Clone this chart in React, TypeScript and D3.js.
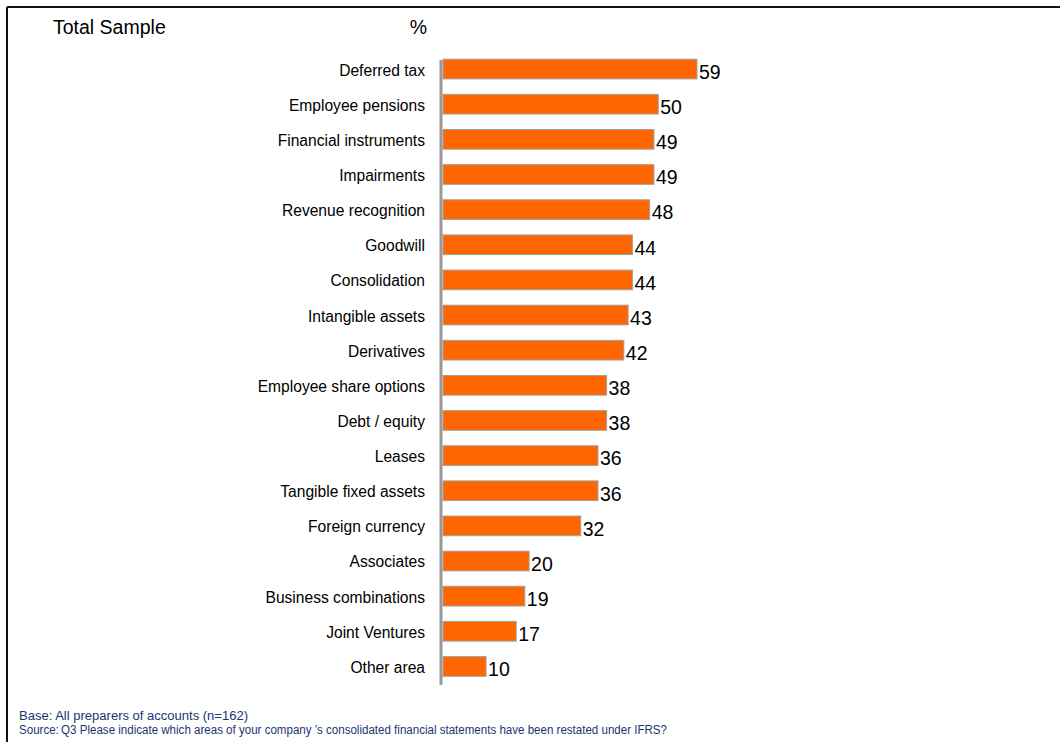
import React from "react";
import * as d3 from "d3";

const categories = [
  "Deferred tax",
  "Employee pensions",
  "Financial instruments",
  "Impairments",
  "Revenue recognition",
  "Goodwill",
  "Consolidation",
  "Intangible assets",
  "Derivatives",
  "Employee share options",
  "Debt / equity",
  "Leases",
  "Tangible fixed assets",
  "Foreign currency",
  "Associates",
  "Business combinations",
  "Joint Ventures",
  "Other area",
];
const values = [59, 50, 49, 49, 48, 44, 44, 43, 42, 38, 38, 36, 36, 32, 20, 19, 17, 10];

const title = "Total Sample";
const unitLabel = "%";
const footnotes = [
  "Base: All preparers of accounts (n=162)",
  "Source:\u2009Q3 Please indicate which areas of your company \u2019s consolidated financial statements have been restated under IFRS?",
];

export default function App() {
  const W = 1060, H = 742;
  const x0 = 443;
  const x = d3.scaleLinear().domain([0, 59]).range([x0, 697]);
  const y = d3.scaleBand().domain(categories).range([51.5, 684]).paddingInner(0.44).paddingOuter(0.22);
  const font = "Arial, 'Liberation Sans', Helvetica, sans-serif";
  return (
    <svg width={W} height={H} style={{ position: "absolute", left: 0, top: 0 }} fontFamily={font}>
      <rect x={0} y={0} width={W} height={H} fill="#fff" />
      <line x1={7} y1={7} x2={W} y2={7} stroke="#111" strokeWidth={2} />
      <line x1={7} y1={7} x2={7} y2={H} stroke="#111" strokeWidth={2} />
      <text x={53} y={34} fontSize={19.5} fill="#000">{title}</text>
      <text x={427} y={34} fontSize={19.5} fill="#000" textAnchor="end">{unitLabel}</text>
      {categories.map((c, i) => {
        const yy = y(c)!;
        const h = y.bandwidth();
        return (
          <g key={c}>
            <rect x={x(0)} y={yy} width={x(values[i]) - x(0)} height={h} fill="#ff6600" stroke="#a0a0a0" strokeWidth={1} />
            <text x={425} y={yy + h / 2 + 1} dy="0.35em" fontSize={15.6} textAnchor="end" fill="#000">{c}</text>
            <text x={x(values[i]) + 2} y={yy + h / 2 + 3} dy="0.35em" fontSize={19.5} fill="#000">{values[i]}</text>
          </g>
        );
      })}
      <line x1={441} y1={60} x2={441} y2={685} stroke="#999" strokeWidth={3} />
      <text x={19} y={720} fontSize={12.5} fill="#1a3570" textLength={229} lengthAdjust="spacingAndGlyphs">{footnotes[0]}</text>
      <text x={19} y={734} fontSize={12.5} fill="#1a3570" textLength={648} lengthAdjust="spacingAndGlyphs">{footnotes[1]}</text>
    </svg>
  );
}
